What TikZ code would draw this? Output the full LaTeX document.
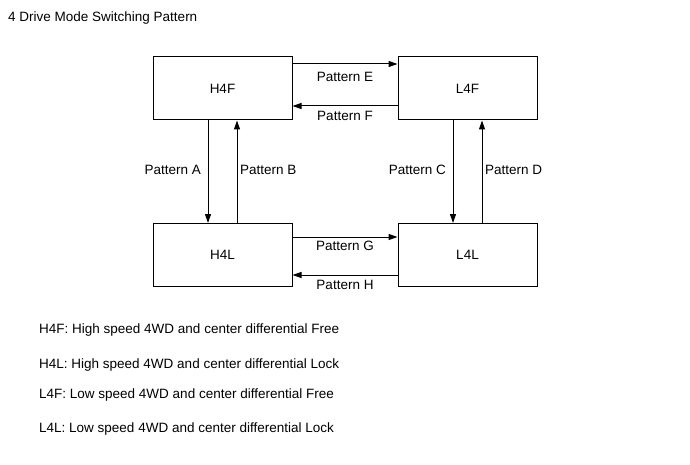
\documentclass[tikz,border=0pt]{standalone}
\usepackage{fontspec}
\setmainfont{Liberation Sans}
\usetikzlibrary{arrows.meta}
\begin{document}
\begin{tikzpicture}[x=1pt,y=-1pt,
  every node/.style={font=\fontsize{13.5}{16}\selectfont,inner sep=0pt},
  modebox/.style={draw,line width=1pt,minimum width=139pt,minimum height=63pt},
  conn/.style={line width=1pt,-{Triangle[length=9pt,width=6pt]}}]
\useasboundingbox (0,0) rectangle (690,465);
\node[anchor=west] (title) at (8,18) {4 Drive Mode Switching Pattern};
\node[modebox] (h4f) at (222.5,88.5) {H4F};
\node[modebox] (l4f) at (467.5,88.5) {L4F};
\node[modebox] (h4l) at (222.5,255) {H4L};
\node[modebox] (l4l) at (467.5,255) {L4L};
% horizontal
\draw[conn] (h4f.east |- 0,64) -- (l4f.west |- 0,64);
\draw[conn] (l4f.west |- 0,106) -- (h4f.east |- 0,106);
\draw[conn] (h4l.east |- 0,237) -- (l4l.west |- 0,237);
\draw[conn] (l4l.west |- 0,275) -- (h4l.east |- 0,275);
% vertical
\draw[conn] (h4f.south -| 208,0) -- (h4l.north -| 208,0);
\draw[conn] (h4l.north -| 237,0) -- (h4f.south -| 237,0);
\draw[conn] (l4f.south -| 453,0) -- (l4l.north -| 453,0);
\draw[conn] (l4l.north -| 482,0) -- (l4f.south -| 482,0);
% labels
\node (le) at (345,77) {Pattern E};
\node (lf) at (345,116) {Pattern F};
\node (lg) at (345,246) {Pattern G};
\node (lh) at (345,285) {Pattern H};
\node[anchor=east] (la) at (201,170) {Pattern A};
\node[anchor=west] (lb) at (240,170) {Pattern B};
\node[anchor=east] (lc) at (446,170) {Pattern C};
\node[anchor=west] (ld) at (485,170) {Pattern D};
% legend
\node[anchor=west] (g1) at (39,330) {H4F: High speed 4WD and center differential Free};
\node[anchor=west] (g2) at (39,365) {H4L: High speed 4WD and center differential Lock};
\node[anchor=west] (g3) at (39,395) {L4F: Low speed 4WD and center differential Free};
\node[anchor=west] (g4) at (39,429) {L4L: Low speed 4WD and center differential Lock};
\end{tikzpicture}
\end{document}
